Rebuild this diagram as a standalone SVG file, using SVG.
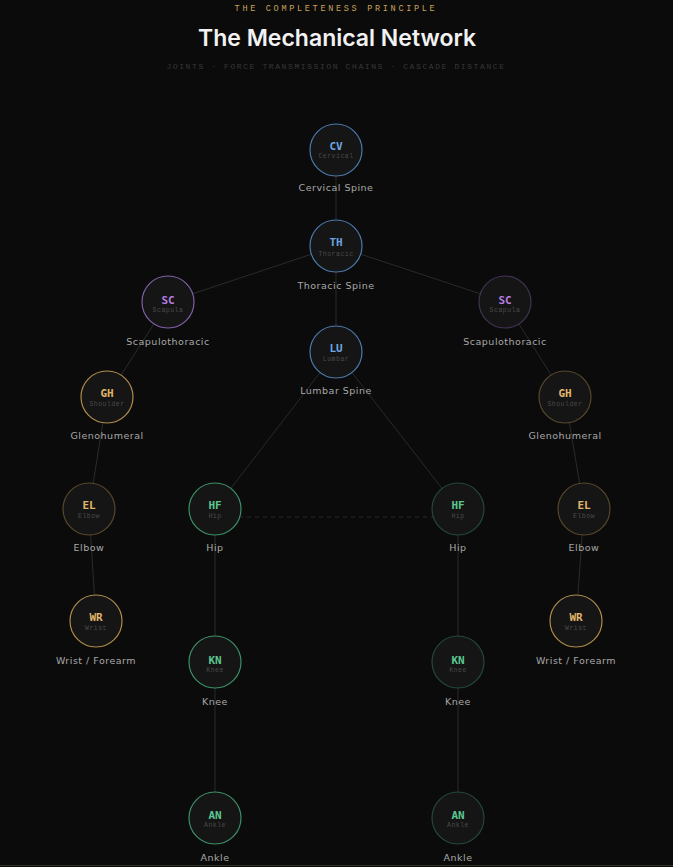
<svg xmlns="http://www.w3.org/2000/svg" width="673" height="867" viewBox="0 0 673 867">
<defs>
<style>
.bg{fill:#0b0b0b}
.edge{stroke:#2a2a2a;stroke-width:1;fill:none}
.dash{stroke:#2a2a2a;stroke-width:1;stroke-dasharray:4 4;fill:none}
.c{fill:#151515;stroke-width:1.2}
.ab{font-family:"DejaVu Sans Mono","Liberation Mono",monospace;font-size:11px;font-weight:600;text-anchor:middle}
.sb{font-family:"Liberation Mono",monospace;font-size:6.5px;fill:#4a4a4a;text-anchor:middle;letter-spacing:0.5px}
.lb{font-family:"DejaVu Sans","Liberation Sans",sans-serif;font-size:9.5px;fill:#a8a8a8;text-anchor:middle;letter-spacing:0.5px}
.blue .c{stroke:#4a7aad}.blue .ab{fill:#6aa6e0}
.purple .c{stroke:#8060a8}.purple .ab{fill:#b47fe2}
.gold .c{stroke:#b08c4c}.gold .ab{fill:#e0b56a}
.green .c{stroke:#3c9168}.green .ab{fill:#5cc690}
.dim .c{stroke-opacity:0.45}
</style>
</defs>
<rect class="bg" x="0" y="0" width="673" height="867"/>
<text x="336" y="11" text-anchor="middle" font-family="Liberation Mono,monospace" font-size="8.5" fill="#c9a25a" letter-spacing="2.7">THE COMPLETENESS PRINCIPLE</text>
<text x="337" y="46" text-anchor="middle" font-family="Inter,Liberation Sans,sans-serif" font-size="23" font-weight="600" fill="#f2f2f2">The Mechanical Network</text>
<text x="336" y="69" text-anchor="middle" font-family="Liberation Mono,monospace" font-size="8" fill="#383838" letter-spacing="1.6">JOINTS · FORCE TRANSMISSION CHAINS · CASCADE DISTANCE</text>
<g id="connectors">
<line class="edge" x1="336" y1="150" x2="336" y2="246"/>
<line class="edge" x1="336" y1="246" x2="168" y2="302"/>
<line class="edge" x1="336" y1="246" x2="505" y2="302"/>
<line class="edge" x1="336" y1="246" x2="336" y2="352"/>
<line class="edge" x1="168" y1="302" x2="107" y2="397"/>
<line class="edge" x1="107" y1="397" x2="89" y2="509"/>
<line class="edge" x1="89" y1="509" x2="96" y2="621"/>
<line class="edge" x1="505" y1="302" x2="565" y2="397"/>
<line class="edge" x1="565" y1="397" x2="584" y2="509"/>
<line class="edge" x1="584" y1="509" x2="576" y2="621"/>
<line class="edge" x1="336" y1="352" x2="215" y2="509"/>
<line class="edge" x1="336" y1="352" x2="458" y2="509"/>
<line class="edge" x1="215" y1="509" x2="215" y2="818"/>
<line class="edge" x1="458" y1="509" x2="458" y2="818"/>
<line class="dash" x1="215" y1="517" x2="458" y2="517"/>
</g>
<g id="cv" class="blue"><circle class="c" cx="336" cy="150" r="26"/><text class="ab" x="336" y="150">CV</text><text class="sb" x="336" y="158">Cervical</text><text class="lb" x="336" y="191">Cervical Spine</text></g>
<g id="th" class="blue"><circle class="c" cx="336" cy="246" r="26"/><text class="ab" x="336" y="246">TH</text><text class="sb" x="336" y="256">Thoracic</text><text class="lb" x="336" y="289">Thoracic Spine</text></g>
<g id="lu" class="blue"><circle class="c" cx="336" cy="352" r="26"/><text class="ab" x="336" y="352">LU</text><text class="sb" x="336" y="361">Lumbar</text><text class="lb" x="336" y="394">Lumbar Spine</text></g>
<g id="sc-l" class="purple"><circle class="c" cx="168" cy="302" r="26"/><text class="ab" x="168" y="304">SC</text><text class="sb" x="168" y="312">Scapula</text><text class="lb" x="168" y="345">Scapulothoracic</text></g>
<g id="sc-r" class="purple dim"><circle class="c" cx="505" cy="302" r="26"/><text class="ab" x="505" y="304">SC</text><text class="sb" x="505" y="312">Scapula</text><text class="lb" x="505" y="345">Scapulothoracic</text></g>
<g id="gh-l" class="gold"><circle class="c" cx="107" cy="397" r="26"/><text class="ab" x="107" y="397">GH</text><text class="sb" x="107" y="406">Shoulder</text><text class="lb" x="107" y="439">Glenohumeral</text></g>
<g id="gh-r" class="gold dim"><circle class="c" cx="565" cy="397" r="26"/><text class="ab" x="565" y="397">GH</text><text class="sb" x="565" y="406">Shoulder</text><text class="lb" x="565" y="439">Glenohumeral</text></g>
<g id="el-l" class="gold dim"><circle class="c" cx="89" cy="509" r="26"/><text class="ab" x="89" y="509">EL</text><text class="sb" x="89" y="518">Elbow</text><text class="lb" x="89" y="551">Elbow</text></g>
<g id="el-r" class="gold dim"><circle class="c" cx="584" cy="509" r="26"/><text class="ab" x="584" y="509">EL</text><text class="sb" x="584" y="518">Elbow</text><text class="lb" x="584" y="551">Elbow</text></g>
<g id="wr-l" class="gold"><circle class="c" cx="96" cy="621" r="26"/><text class="ab" x="96" y="621">WR</text><text class="sb" x="96" y="630">Wrist</text><text class="lb" x="96" y="664">Wrist / Forearm</text></g>
<g id="wr-r" class="gold"><circle class="c" cx="576" cy="621" r="26"/><text class="ab" x="576" y="621">WR</text><text class="sb" x="576" y="630">Wrist</text><text class="lb" x="576" y="664">Wrist / Forearm</text></g>
<g id="hf-l" class="green"><circle class="c" cx="215" cy="509" r="26"/><text class="ab" x="215" y="509">HF</text><text class="sb" x="215" y="518">Hip</text><text class="lb" x="215" y="551">Hip</text></g>
<g id="hf-r" class="green dim"><circle class="c" cx="458" cy="509" r="26"/><text class="ab" x="458" y="509">HF</text><text class="sb" x="458" y="518">Hip</text><text class="lb" x="458" y="551">Hip</text></g>
<g id="kn-l" class="green"><circle class="c" cx="215" cy="662" r="26"/><text class="ab" x="215" y="664">KN</text><text class="sb" x="215" y="672">Knee</text><text class="lb" x="215" y="705">Knee</text></g>
<g id="kn-r" class="green dim"><circle class="c" cx="458" cy="662" r="26"/><text class="ab" x="458" y="664">KN</text><text class="sb" x="458" y="672">Knee</text><text class="lb" x="458" y="705">Knee</text></g>
<g id="an-l" class="green"><circle class="c" cx="215" cy="818" r="26"/><text class="ab" x="215" y="819">AN</text><text class="sb" x="215" y="827">Ankle</text><text class="lb" x="215" y="861">Ankle</text></g>
<g id="an-r" class="green dim"><circle class="c" cx="458" cy="818" r="26"/><text class="ab" x="458" y="819">AN</text><text class="sb" x="458" y="827">Ankle</text><text class="lb" x="458" y="861">Ankle</text></g>
<line x1="0" y1="865.5" x2="673" y2="865.5" stroke="#2f3020" stroke-width="1"/>
</svg>
